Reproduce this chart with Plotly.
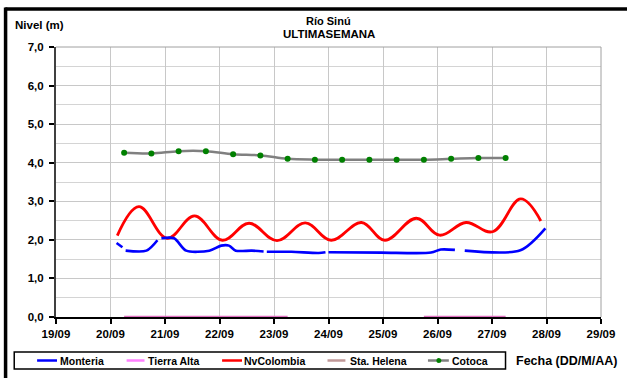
import plotly.graph_objects as go

# ---------------- data ----------------
cotoca_t = ["2011-09-20 06:00", "2011-09-20 18:00", "2011-09-21 06:00", "2011-09-21 18:00",
            "2011-09-22 06:00", "2011-09-22 18:00", "2011-09-23 06:00", "2011-09-23 18:00",
            "2011-09-24 06:00", "2011-09-24 18:00", "2011-09-25 06:00", "2011-09-25 18:00",
            "2011-09-26 06:00", "2011-09-26 18:00", "2011-09-27 06:00"]
cotoca_v = [4.26, 4.24, 4.30, 4.30, 4.22, 4.19, 4.10, 4.08, 4.08, 4.08, 4.08, 4.08, 4.10, 4.12, 4.12]

nvcol_t = ["2011-09-20 03:00", "2011-09-20 12:30", "2011-09-21 01:00", "2011-09-21 13:00",
           "2011-09-22 01:15", "2011-09-22 13:00", "2011-09-23 01:20", "2011-09-23 13:45",
           "2011-09-24 01:10", "2011-09-24 14:30", "2011-09-25 00:50", "2011-09-25 14:40",
           "2011-09-26 00:55", "2011-09-26 12:35", "2011-09-27 00:15", "2011-09-27 12:40",
           "2011-09-27 21:30"]
nvcol_v = [2.11, 2.86, 2.04, 2.62, 1.99, 2.43, 1.98, 2.44, 1.99, 2.45, 1.99, 2.56, 2.12, 2.45,
           2.21, 3.06, 2.49]

monteria_t = ["2011-09-20 02:40", "2011-09-20 05:15", "2011-09-20 05:50", "2011-09-20 06:40",
              "2011-09-20 15:50", "2011-09-20 20:40", "2011-09-20 21:30", "2011-09-20 22:25",
              "2011-09-21 04:00", "2011-09-21 09:20", "2011-09-21 19:30", "2011-09-22 00:45",
              "2011-09-22 04:10", "2011-09-22 07:10", "2011-09-22 14:10", "2011-09-22 19:25",
              "2011-09-22 20:10", "2011-09-22 20:50", "2011-09-23 07:40", "2011-09-23 19:40",
              "2011-09-23 22:40", "2011-09-23 23:20", "2011-09-24 00:00", "2011-09-24 23:15",
              "2011-09-25 21:10", "2011-09-26 01:25", "2011-09-26 07:40", "2011-09-26 10:00",
              "2011-09-26 12:00", "2011-09-27 12:30", "2011-09-27 23:30"]
monteria_v = [1.92, 1.81, None, 1.72, 1.72, 1.99, None, 2.04, 2.04, 1.72, 1.72, 1.85, 1.85,
              1.72, 1.72, 1.70, None, 1.69, 1.69, 1.66, 1.68, None, 1.68, 1.67, 1.67, 1.75,
              1.74, None, 1.72, 1.73, 2.30]

tierra_t = ["2011-09-20 06:00", "2011-09-20 18:00", "2011-09-21 06:00", "2011-09-21 18:00",
            "2011-09-22 06:00", "2011-09-22 18:00", "2011-09-23 06:00", "2011-09-24 12:00",
            "2011-09-25 18:00", "2011-09-26 06:00", "2011-09-26 18:00", "2011-09-27 06:00"]
tierra_v = [0, 0, 0, 0, 0, 0, 0, None, 0, 0, 0, 0]

helena_t = ["2011-09-20 06:00", "2011-09-27 06:00"]
helena_v = [None, None]

series_names = ["Monteria", "Tierra Alta", "NvColombia", "Sta. Helena", "Cotoca"]
series_colors = ["#0000ff", "#ff80ff", "#ff0000", "#c09898", "#808080"]
x_range = ["2011-09-19", "2011-09-29"]
y_range = [0, 7]

# ---------------- geometry helpers ----------------
W, H = 627, 378
L, R, T, B = 56, 604, 47, 317


def px(x):
    return (x - L) / (R - L)


def py(y):
    return (B - y) / (B - T)


FONT = "Liberation Sans, Arial, sans-serif"

fig = go.Figure()

fig.add_trace(go.Scatter(x=tierra_t, y=tierra_v, mode="lines", name=series_names[1],
                         line=dict(color="#e070c0", width=2.5), connectgaps=False,
                         showlegend=False))
fig.add_trace(go.Scatter(x=helena_t, y=helena_v, mode="lines", name=series_names[3],
                         line=dict(color=series_colors[3], width=2), showlegend=False))
fig.add_trace(go.Scatter(x=cotoca_t, y=cotoca_v, mode="lines+markers", name=series_names[4],
                         line=dict(color=series_colors[4], width=2.5, shape="spline"),
                         marker=dict(color="#008000", size=6), showlegend=False))
fig.add_trace(go.Scatter(x=nvcol_t, y=nvcol_v, mode="lines", name=series_names[2],
                         line=dict(color=series_colors[2], width=2.8, shape="spline",
                                   smoothing=1.1), showlegend=False))
fig.add_trace(go.Scatter(x=monteria_t, y=monteria_v, mode="lines", name=series_names[0],
                         line=dict(color=series_colors[0], width=2.6, shape="spline",
                                   smoothing=0.8), connectgaps=False, showlegend=False))

fig.update_layout(
    width=W, height=H, autosize=False,
    margin=dict(l=L, r=W - R, t=T, b=H - B, pad=0),
    paper_bgcolor="white", plot_bgcolor="white",
    separators=",.",
    font=dict(family=FONT, size=11, color="black"),
    showlegend=False,
)

fig.update_xaxes(
    type="date", range=x_range, tick0="2011-09-19", dtick=86400000, tickformat="%d/%m",
    showgrid=True, gridcolor="#c8c8c8", gridwidth=1,
    showline=True, linecolor="black", linewidth=2,
    ticks="outside", ticklen=5, tickcolor="black", tickwidth=1.5,
    tickfont=dict(family=FONT, size=11.5, color="black", weight="bold"),
    zeroline=False, layer="below traces",
)
fig.update_yaxes(
    range=y_range, dtick=1, tick0=0, tickformat=".1f",
    showgrid=True, gridcolor="#c8c8c8", gridwidth=1,
    minor=dict(dtick=0.5, showgrid=True, gridcolor="#d4d4d4", gridwidth=1),
    showline=True, linecolor="#404040", linewidth=2,
    ticks="outside", ticklen=5, tickcolor="black", tickwidth=1.5,
    tickfont=dict(family=FONT, size=11.5, color="black", weight="bold"),
    ticklabelstandoff=3,
    zeroline=False, layer="below traces",
)

shapes = []
# plot-area border (top / right)
shapes.append(dict(type="line", xref="paper", yref="paper", x0=0, x1=1, y0=1, y1=1,
                   line=dict(color="#a0a0a0", width=1)))
shapes.append(dict(type="line", xref="paper", yref="paper", x0=1, x1=1, y0=0, y1=1,
                   line=dict(color="#a0a0a0", width=1)))
# outer black frame
shapes.append(dict(type="line", xref="paper", yref="paper", x0=px(5), x1=px(640),
                   y0=py(9), y1=py(9), line=dict(color="black", width=3.5)))
shapes.append(dict(type="line", xref="paper", yref="paper", x0=px(5.3), x1=px(5.3),
                   y0=py(7.5), y1=py(400), line=dict(color="black", width=3.5)))
# legend box
shapes.append(dict(type="rect", xref="paper", yref="paper", x0=px(14), x1=px(508),
                   y0=py(352), y1=py(369), line=dict(color="black", width=1.5),
                   fillcolor="white"))

leg_line = [(37, 57), (127, 145), (223, 243), (329, 347), (430, 451)]
leg_text = [58, 146, 243, 350, 452]
leg_y = 360.5
annotations = []
for i, name in enumerate(series_names):
    x0, x1 = leg_line[i]
    shapes.append(dict(type="line", xref="paper", yref="paper", x0=px(x0), x1=px(x1),
                       y0=py(leg_y), y1=py(leg_y),
                       line=dict(color=series_colors[i], width=2.5)))
    annotations.append(dict(text=name, xref="paper", yref="paper", x=px(leg_text[i]),
                            y=py(leg_y), xanchor="left", yanchor="middle", showarrow=False,
                            font=dict(family=FONT, size=10.5, color="black", weight="bold")))
# green marker on Cotoca legend sample
shapes.append(dict(type="circle", xref="paper", yref="paper", x0=px(438.5), x1=px(443.5),
                   y0=py(363), y1=py(358), fillcolor="#008000", line=dict(width=0)))

annotations += [
    dict(text="Río Sinú", xref="paper", yref="paper", x=0.5, y=py(21), xanchor="center",
         yanchor="middle", showarrow=False,
         font=dict(family=FONT, size=11, color="black", weight="bold")),
    dict(text="ULTIMASEMANA", xref="paper", yref="paper", x=0.5, y=py(34), xanchor="center",
         yanchor="middle", showarrow=False,
         font=dict(family=FONT, size=11.5, color="black", weight="bold")),
    dict(text="Nivel (m)", xref="paper", yref="paper", x=px(13), y=py(25), xanchor="left",
         yanchor="middle", showarrow=False,
         font=dict(family=FONT, size=11.5, color="black", weight="bold")),
    dict(text="Fecha (DD/M/AA)", xref="paper", yref="paper", x=px(517), y=py(361),
         xanchor="left", yanchor="middle", showarrow=False,
         font=dict(family=FONT, size=12.5, color="black", weight="bold")),
]

fig.update_layout(shapes=shapes, annotations=annotations)

fig.write_html("out.html", config={"displayModeBar": False},
               post_script="document.body.style.margin='0';document.body.style.overflow='hidden';")
